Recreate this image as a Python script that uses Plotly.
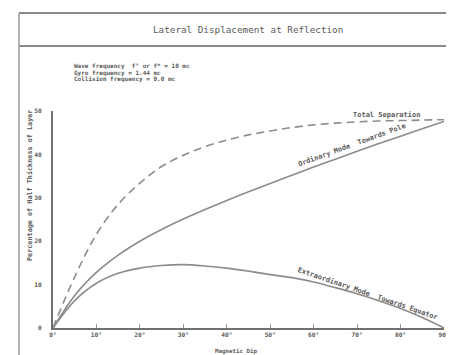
import plotly.graph_objects as go

# ---- data ----
dip = [0, 5, 10, 15, 20, 25, 30, 35, 40, 45, 50, 55, 60, 65, 70, 75, 80, 85, 90]
total_sep = [0, 11.8, 21.6, 28.5, 33.4, 37.2, 39.8, 41.8, 43.3, 44.5, 45.4, 46.2, 46.8, 47.2, 47.5, 47.7, 47.8, 47.9, 48.0]
ordinary = [0, 7.5, 12.8, 16.8, 20.0, 22.7, 25.1, 27.3, 29.4, 31.4, 33.3, 35.2, 37.1, 38.9, 40.7, 42.5, 44.2, 45.9, 47.6]
extraord = [0, 6.3, 10.3, 12.6, 13.8, 14.4, 14.6, 14.3, 13.8, 13.1, 12.3, 11.6, 10.6, 9.3, 7.9, 6.3, 4.5, 2.4, 0]

x_ticks = [0, 10, 20, 30, 40, 50, 60, 70, 80, 90]
x_tick_text = ["0°", "10°", "20°", "30°", "40°", "50°", "60°", "70°", "80°", "90°"]
y_ticks = [0, 10, 20, 30, 40, 50]
y_tick_text = ["0", "10", "20", "30", "40", "50"]

title_text = "Lateral Displacement at Reflection"
info_lines = ["Wave frequency  f° or f* = 10 mc",
              "Gyro frequency = 1.44 mc",
              "Collision frequency = 0.0 mc"]
y_label = "Percentage of Half Thickness of Layer"
x_label = "Magnetic Dip"
label_total = "Total Separation"
label_ord = "Ordinary Mode  Towards Pole"
label_ext = "Extraordinary Mode  Towards Equator"

# ---- layout geometry (pixels) ----
W, H = 454, 355
L, R, T, B = 45, 18, 103, 35
PW, PH = W - L - R, H - T - B

def px(x):
    return (x - L) / PW

def py(y):
    return (H - B - y) / PH

CURVE = "#8c8c8c"
AX = "#707070"
TXT = "#5a5a5a"
FONT = "DejaVu Sans Mono"

def f(size, weight="bold"):
    return dict(family=FONT, size=size, color=TXT, weight=weight)

fig = go.Figure()
fig.add_trace(go.Scatter(x=dip, y=total_sep, mode="lines", line=dict(color=CURVE, width=1.6, dash="8px,5px", shape="spline"), hoverinfo="skip"))
fig.add_trace(go.Scatter(x=dip, y=ordinary, mode="lines", line=dict(color=CURVE, width=1.6, shape="spline"), hoverinfo="skip"))
fig.add_trace(go.Scatter(x=dip, y=extraord, mode="lines", line=dict(color=CURVE, width=1.6, shape="spline"), hoverinfo="skip"))

shapes = [
    dict(type="line", xref="paper", yref="paper", x0=px(11), x1=px(454), y0=py(5), y1=py(5), line=dict(color="#8a8a8a", width=2)),
    dict(type="line", xref="paper", yref="paper", x0=px(11), x1=px(454), y0=py(38), y1=py(38), line=dict(color="#8a8a8a", width=2)),
    dict(type="line", xref="paper", yref="paper", x0=px(11), x1=px(11), y0=py(5), y1=py(355), line=dict(color="#9a9a9a", width=1.5)),
    dict(type="line", xref="paper", yref="paper", x0=px(11), x1=px(135), y0=py(353), y1=py(353), line=dict(color="#9a9a9a", width=1.5)),
]

annotations = [
    dict(text=title_text, xref="paper", yref="paper", x=px(240), y=py(22), showarrow=False,
         font=f(9.3, "normal"), xanchor="center", yanchor="middle"),
    dict(text=y_label, xref="paper", yref="paper", x=px(22), y=py(178), showarrow=False, textangle=-90,
         font=f(6.8), xanchor="center", yanchor="middle"),
    dict(text=x_label, xref="paper", yref="paper", x=px(228), y=py(343), showarrow=False,
         font=f(5.8), xanchor="center", yanchor="middle"),
    dict(text=label_total, x=76.8, y=49.1, showarrow=False,
         font=f(7), xanchor="center", yanchor="middle"),
    dict(text=label_ord, x=68.9, y=42.2, showarrow=False, textangle=-20,
         font=f(7), xanchor="center", yanchor="middle"),
    dict(text=label_ext, x=72.6, y=7.9, showarrow=False, textangle=19,
         font=f(7), xanchor="center", yanchor="middle"),
]
for i, line in enumerate(info_lines):
    annotations.append(dict(text=line, xref="paper", yref="paper", x=px(64), y=py(58 + 6.6 * i), showarrow=False,
                            xanchor="left", yanchor="middle", font=f(6.0)))

fig.update_layout(
    width=W, height=H,
    margin=dict(l=L, r=R, t=T, b=B),
    paper_bgcolor="white", plot_bgcolor="white",
    showlegend=False,
    shapes=shapes, annotations=annotations,
    font=dict(family=FONT, color=TXT),
)
fig.update_xaxes(range=[0, 90], tickvals=x_ticks, ticktext=x_tick_text, showgrid=False, zeroline=False,
                 showline=True, linecolor=AX, linewidth=2, ticks="inside", ticklen=4, tickcolor="#999",
                 tickfont=f(6.2), fixedrange=True)
fig.update_yaxes(range=[0, 50], tickvals=y_ticks, ticktext=y_tick_text, showgrid=False, zeroline=False,
                 showline=True, linecolor=AX, linewidth=2, ticks="", ticklabelstandoff=8,
                 tickfont=f(6.2), fixedrange=True)

fig.write_html("out.html", config=dict(displayModeBar=False))
